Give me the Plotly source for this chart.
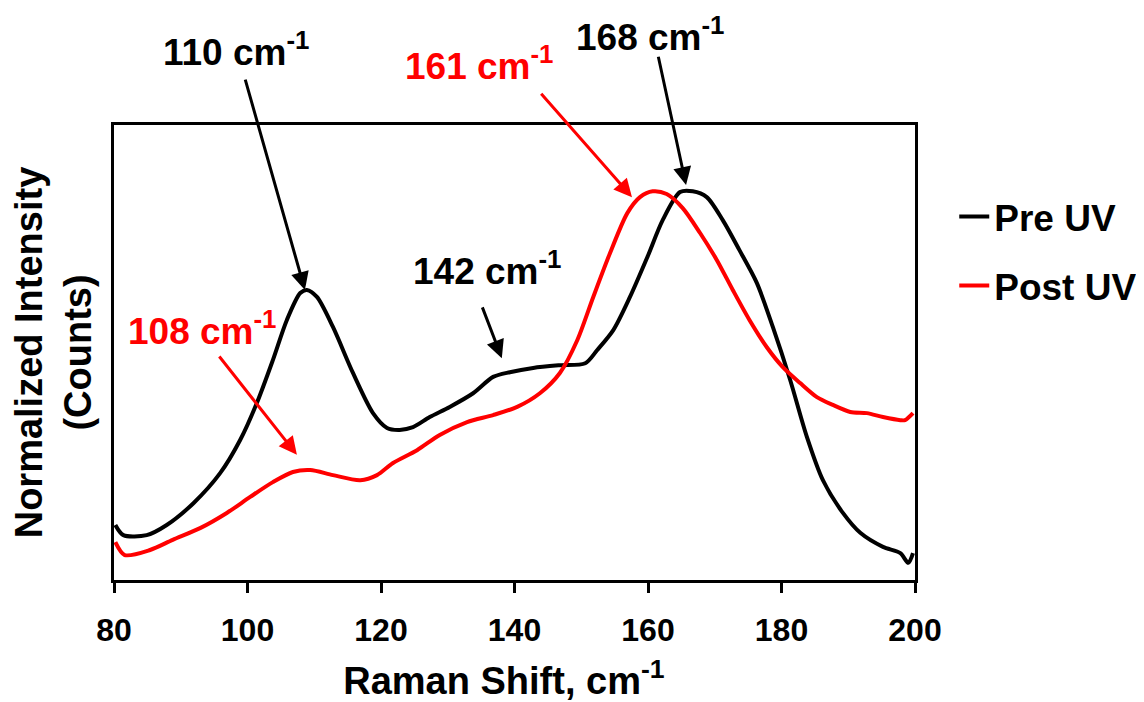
import plotly.graph_objects as go

# Pre UV (black) spectrum
pre_x = [80.2, 81.4, 84.9, 87.9, 91.9, 95.9, 98.9, 101.4, 103.8, 105.9, 107.9, 108.9,
         110.4, 112.8, 115.8, 118.8, 120.9, 122.8, 124.8, 127.3, 130.3, 133.8, 136.8,
         139.3, 142.8, 146.8, 150.6, 152.4, 154.8, 157.3, 159.9, 162.2, 164.8, 166.7,
         168.8, 171.2, 173.7, 176.3, 178.7, 181.3, 183.8, 186.2, 189.2, 191.8, 195.2,
         197.8, 199.0, 199.7]
pre_y = [0.141, 0.115, 0.115, 0.141, 0.197, 0.274, 0.359, 0.454, 0.564, 0.667, 0.736, 0.744,
         0.726, 0.649, 0.531, 0.428, 0.390, 0.385, 0.392, 0.418, 0.444, 0.479, 0.521,
         0.533, 0.544, 0.551, 0.556, 0.590, 0.641, 0.726, 0.828, 0.923, 0.995, 0.997,
         0.982, 0.923, 0.846, 0.762, 0.649, 0.513, 0.367, 0.256, 0.172, 0.121, 0.085,
         0.069, 0.044, 0.069]

# Post UV (red) spectrum
post_x = [80.2, 81.6, 85.4, 88.8, 92.9, 96.9, 100.4, 103.8, 106.8, 109.4, 112.8, 116.9,
          119.4, 121.8, 125.4, 128.8, 132.9, 136.8, 140.4, 143.8, 146.8, 149.4, 151.8,
          154.3, 156.9, 158.8, 160.7, 162.8, 165.2, 167.8, 170.3, 172.7, 175.2, 177.8,
          180.2, 182.8, 185.3, 187.7, 190.3, 192.8, 195.2, 197.8, 198.5, 199.7]
post_y = [0.097, 0.064, 0.077, 0.103, 0.133, 0.172, 0.213, 0.251, 0.277, 0.282, 0.269, 0.256,
          0.269, 0.300, 0.333, 0.372, 0.405, 0.423, 0.444, 0.479, 0.531, 0.615, 0.726,
          0.838, 0.941, 0.982, 0.997, 0.990, 0.954, 0.890, 0.821, 0.744, 0.667, 0.597,
          0.546, 0.505, 0.469, 0.449, 0.431, 0.428, 0.418, 0.410, 0.410, 0.428]

series_names = ["Pre UV", "Post UV"]
x_ticks = [80, 100, 120, 140, 160, 180, 200]
y_max = 1.167

# Peak labels: text, colour, text position, arrow tail, arrow head (data units)
peak_labels = ["110 cm<sup>-1</sup>", "168 cm<sup>-1</sup>", "161 cm<sup>-1</sup>",
               "142 cm<sup>-1</sup>", "108 cm<sup>-1</sup>"]
peak_colors = ["black", "black", "red", "black", "red"]
label_x = [98.3, 160.3, 134.8, 136.0, 93.3]
label_y = [1.360, 1.398, 1.325, 0.800, 0.646]
tail_x = [99.6, 161.5, 143.8, 135.1, 95.6]
tail_y = [1.287, 1.346, 1.251, 0.703, 0.577]
head_x = [108.6, 165.7, 157.6, 138.1, 107.4]
head_y = [0.744, 1.013, 0.982, 0.569, 0.321]

FONT = "Liberation Sans"

fig = go.Figure()
fig.add_trace(go.Scatter(x=pre_x, y=pre_y, mode="lines", name=series_names[0],
                         legendgroup="a",
                         line=dict(color="black", width=4, shape="spline", smoothing=0.8)))
fig.add_trace(go.Scatter(x=post_x, y=post_y, mode="lines", name=series_names[1],
                         legendgroup="b",
                         line=dict(color="#ff0000", width=4, shape="spline", smoothing=0.8)))

for i in range(len(peak_labels)):
    fig.add_annotation(x=label_x[i], y=label_y[i] / y_max, xref="x", yref="paper",
                       xanchor="center", yanchor="middle", borderpad=0,
                       text="<b>" + peak_labels[i] + "</b>", showarrow=False,
                       font=dict(family=FONT, size=37, color=peak_colors[i]))
    fig.add_annotation(x=head_x[i], y=head_y[i], ax=tail_x[i], ay=tail_y[i],
                       xref="x", yref="y", axref="x", ayref="y", text="",
                       showarrow=True, arrowhead=2, arrowsize=1.2, arrowwidth=3,
                       arrowcolor=peak_colors[i])

fig.update_layout(
    width=1136, height=694,
    margin=dict(l=106, r=229, t=117, b=122, autoexpand=False),
    paper_bgcolor="white", plot_bgcolor="white",
    font=dict(family=FONT, color="black"),
    showlegend=True,
    legend=dict(x=1.049, y=0.866, xanchor="left", yanchor="top",
                font=dict(family=FONT, size=37, color="black", weight="bold"),
                tracegroupgap=18, traceorder="grouped", bgcolor="rgba(0,0,0,0)"),
    xaxis=dict(range=[80, 200], tickvals=x_ticks, ticktext=[str(v) for v in x_ticks],
               automargin=False,
               showgrid=False, zeroline=False, showline=True, linecolor="black",
               linewidth=3, mirror=True, ticks="outside", ticklen=10, tickwidth=3,
               tickcolor="black", ticklabelstandoff=10,
               tickfont=dict(family=FONT, size=32, color="black", weight="bold"),
               title=dict(text="<b>Raman Shift, cm<sup>-1</sup></b>&nbsp;&nbsp;", standoff=30,
                          font=dict(family=FONT, size=38, color="black"))),
    yaxis=dict(range=[0, y_max], showgrid=False, zeroline=False, showline=True,
               automargin=False,
               linecolor="black", linewidth=3, mirror=True, showticklabels=False,
               ticks="",
               title=dict(text="<b>Normalized Intensity<br>(Counts)</b>", standoff=10,
                          font=dict(family=FONT, size=38, color="black"))),
)

fig.write_html("out.html")
